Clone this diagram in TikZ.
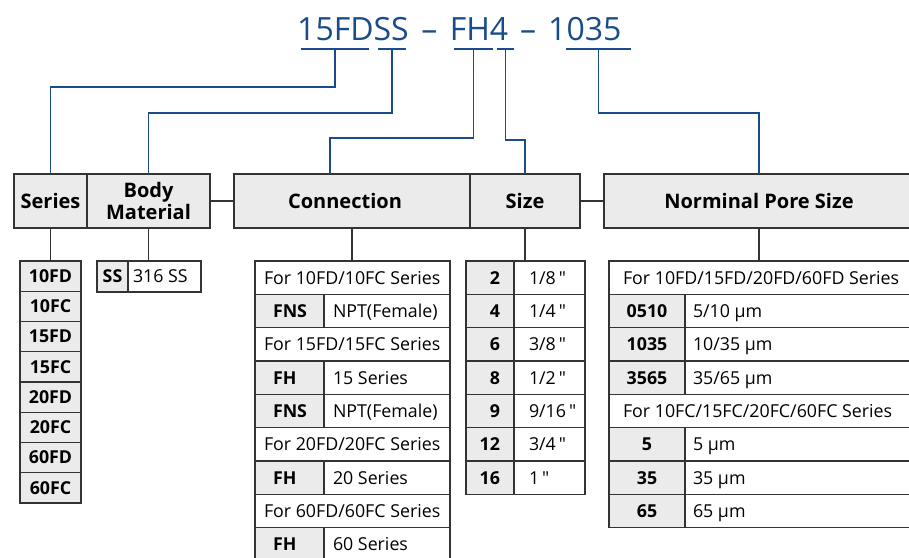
\documentclass[tikz,border=0pt]{standalone}
\usepackage{fontspec}
\setmainfont{Open Sans}
\newfontfamily\plainq{Open Sans}
\definecolor{bluec}{HTML}{1A4C8B}
\definecolor{bord}{HTML}{333333}
\definecolor{cellgray}{HTML}{EBEBEC}
\newcommand\tabfont{\fontsize{17.8}{21}\selectfont}
\newcommand\codefont{\bfseries\fontsize{17.8}{21}\selectfont}
\newcommand\headfont{\bfseries\fontsize{20}{21.5}\selectfont}
\newcommand\cL[3]{\makebox[#1pt][l]{\hspace*{#2pt}#3}}
\newcommand\cR[3]{\makebox[#1pt][r]{#3\hspace*{#2pt}}}
\newcommand\cC[2]{\makebox[#1pt][c]{#2}}
\newcommand\inch{\,{\plainq"}}
\begin{document}
\begin{tikzpicture}[x=1pt,y=-1pt,
  cell/.style={draw=bord, line width=1.2pt, inner sep=0pt, outer sep=0pt, anchor=north west, text height=12.7pt, text depth=0pt},
  code/.style={cell, fill=cellgray, font=\codefont, minimum height=#1},
  val/.style={cell, fill=white, font=\tabfont, minimum height=#1},
  head/.style={draw=bord, line width=1.2pt, fill=cellgray, inner sep=0pt, outer sep=0pt, anchor=north west, minimum height=54pt, font=\headfont, align=center},
  link/.style={draw=bord, line width=1.2pt},
  bline/.style={draw=bluec, line width=1.6pt},
  uline/.style={fill=bluec, inner sep=0pt, outer sep=0pt, minimum height=2.4pt},
]
\clip (0,0) rectangle (909,557);
% title
\node[font=\fontsize{32}{36}\selectfont, text=bluec, anchor=base west, inner sep=0pt] (title) at (297,40) {15FDSS\hspace{12.5pt}–\hspace{12.5pt}FH4\hspace{12pt}–\hspace{12pt}1035};
\node[uline, minimum width=68pt] (u1) at (335,49) {};
\node[uline, minimum width=28pt] (u2) at (392,49) {};
\node[uline, minimum width=39pt] (u3) at (473.5,49) {};
\node[uline, minimum width=17pt] (u4) at (505.5,49) {};
\node[uline, minimum width=65pt] (u5) at (598.5,49) {};
% headers
\node[head, minimum width=73pt] (hSeries) at (14,174) {Series};
\node[head, minimum width=123pt] (hBody) at (87,174) {Body\\Material};
\node[head, minimum width=236pt] (hConn) at (234,174) {\cC{236}{Connection\hspace*{14pt}}};
\node[head, minimum width=110pt] (hSize) at (470,174) {Size};
\node[head, minimum width=310pt] (hPore) at (604,174) {Norminal Pore Size};
\coordinate (cConn) at (330,174);
% blue connectors
\draw[bline] (u1.south) -- ++(0,37) -| (hSeries.north);
\draw[bline] (u2.south) -- ++(0,63) -| (hBody.north);
\draw[bline] (u3.south) -- ++(0,88) -| (cConn);
\draw[bline] (u4.south) -- ++(0,90) -| (hSize.north);
\draw[bline] (u5.south) -- ++(0,63) -| (hPore.north);
\draw[link] (hBody.east) -- (hConn.west);
\draw[link] (hSize.east) -- (hPore.west);
% series table
\foreach \i/\t in {0/10FD,1/10FC,2/15FD,3/15FC,4/20FD,5/20FC,6/60FD,7/60FC}
  \node[code=30.25pt] (s\i) at (20,{261+30.25*\i}) {\cC{61}{\t}};
% body table
\node[code=31pt] (bSS) at (97,261) {\cC{31}{SS}};
\node[val=31pt] (bVal) at (128,261) {\cL{73}{5}{316 SS}};
% connection table
\node[val=33.33pt] (c0) at (255,261) {\cL{195}{9}{For 10FD/10FC Series}};
\node[code=33.33pt] (c1a) at (255,294.33) {\cL{69}{18}{FNS}};
\node[val=33.33pt] (c1b) at (324,294.33) {\cL{126}{9}{NPT(Female)}};
\node[val=33.33pt] (c2) at (255,327.67) {\cL{195}{9}{For 15FD/15FC Series}};
\node[code=33.33pt] (c3a) at (255,361) {\cL{69}{18}{FH}};
\node[val=33.33pt] (c3b) at (324,361) {\cL{126}{9}{15 Series}};
\node[code=33.33pt] (c4a) at (255,394.33) {\cL{69}{18}{FNS}};
\node[val=33.33pt] (c4b) at (324,394.33) {\cL{126}{9}{NPT(Female)}};
\node[val=33.33pt] (c5) at (255,427.67) {\cL{195}{9}{For 20FD/20FC Series}};
\node[code=33.33pt] (c6a) at (255,461) {\cL{69}{18}{FH}};
\node[val=33.33pt] (c6b) at (324,461) {\cL{126}{9}{20 Series}};
\node[val=33.33pt] (c7) at (255,494.33) {\cL{195}{9}{For 60FD/60FC Series}};
\node[code=33.33pt] (c8a) at (255,527.67) {\cL{69}{18}{FH}};
\node[val=33.33pt] (c8b) at (324,527.67) {\cL{126}{9}{60 Series}};
% size table
\node[code=33.33pt] (z0a) at (466,261) {\cR{48}{14}{2}};
\node[val=33.33pt] (z0b) at (514,261) {\cL{71}{15}{1/8\inch}};
\node[code=33.33pt] (z1a) at (466,294.33) {\cR{48}{14}{4}};
\node[val=33.33pt] (z1b) at (514,294.33) {\cL{71}{15}{1/4\inch}};
\node[code=33.33pt] (z2a) at (466,327.67) {\cR{48}{14}{6}};
\node[val=33.33pt] (z2b) at (514,327.67) {\cL{71}{15}{3/8\inch}};
\node[code=33.33pt] (z3a) at (466,361) {\cR{48}{14}{8}};
\node[val=33.33pt] (z3b) at (514,361) {\cL{71}{15}{1/2\inch}};
\node[code=33.33pt] (z4a) at (466,394.33) {\cR{48}{14}{9}};
\node[val=33.33pt] (z4b) at (514,394.33) {\cL{71}{15}{9/16\inch}};
\node[code=33.33pt] (z5a) at (466,427.67) {\cR{48}{14}{12}};
\node[val=33.33pt] (z5b) at (514,427.67) {\cL{71}{15}{3/4\inch}};
\node[code=33.33pt] (z6a) at (466,461) {\cR{48}{14}{16}};
\node[val=33.33pt] (z6b) at (514,461) {\cL{71}{15}{1\inch}};
% pore table
\node[val=33.33pt] (p0) at (609,261) {\cL{306}{14}{For 10FD/15FD/20FD/60FD Series}};
\node[code=33.33pt] (p1a) at (609,294.33) {\cC{76}{0510}};
\node[val=33.33pt] (p1b) at (685,294.33) {\cL{230}{8}{5/10 µm}};
\node[code=33.33pt] (p2a) at (609,327.67) {\cC{76}{1035}};
\node[val=33.33pt] (p2b) at (685,327.67) {\cL{230}{8}{10/35 µm}};
\node[code=33.33pt] (p3a) at (609,361) {\cC{76}{3565}};
\node[val=33.33pt] (p3b) at (685,361) {\cL{230}{8}{35/65 µm}};
\node[val=33.33pt] (p4) at (609,394.33) {\cL{306}{14}{For 10FC/15FC/20FC/60FC Series}};
\node[code=33.33pt] (p5a) at (609,427.67) {\cC{76}{5}};
\node[val=33.33pt] (p5b) at (685,427.67) {\cL{230}{8}{5 µm}};
\node[code=33.33pt] (p6a) at (609,461) {\cC{76}{35}};
\node[val=33.33pt] (p6b) at (685,461) {\cL{230}{8}{35 µm}};
\node[code=33.33pt] (p7a) at (609,494.33) {\cC{76}{65}};
\node[val=33.33pt] (p7b) at (685,494.33) {\cL{230}{8}{65 µm}};
% header to table links
\draw[link] (hSeries.south) -- (s0.north);
\draw[link] (hBody.south) -- (hBody.south |- bSS.north);
\draw[link] (hConn.south) -- (hConn.south |- c0.north);
\draw[link] (hSize.south) -- (hSize.south |- z0a.north);
\draw[link] (hPore.south) -- (hPore.south |- p0.north);
\end{tikzpicture}
\end{document}
